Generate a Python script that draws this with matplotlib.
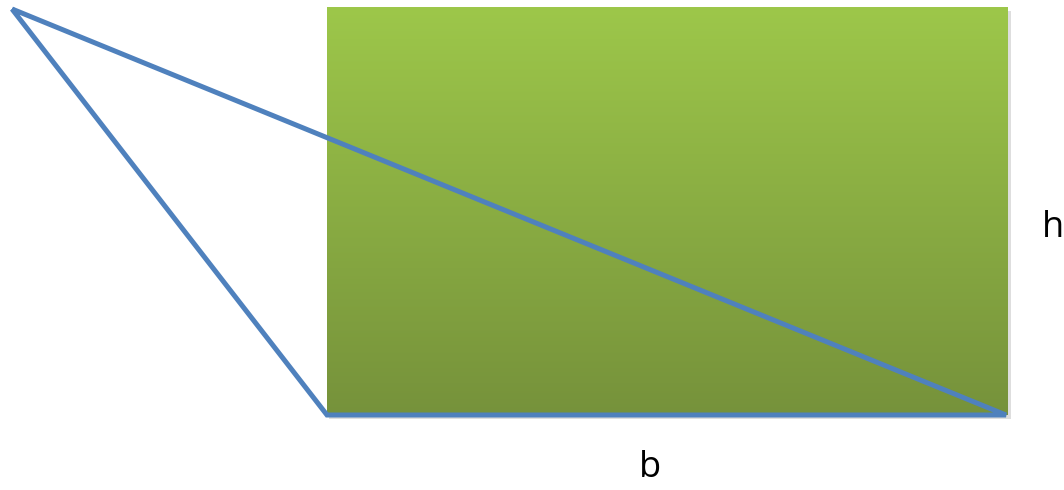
import numpy as np
import matplotlib
matplotlib.use("Agg")
import matplotlib.pyplot as plt
from matplotlib.colors import LinearSegmentedColormap

# ------------------------------------------------------------------
# Data (pixel-like diagram coordinates, y grows downward)
# ------------------------------------------------------------------
RECT_X = [327, 1008]          # left, right
RECT_Y = [8, 415]             # top, bottom
TRI_X = [12, 327, 1006, 12]   # closed triangle
TRI_Y = [9, 415, 415, 9]
LABELS = ["h", "b"]
LABEL_X = [1053, 650]
LABEL_Y = [228, 468]

GREEN_TOP = "#9dc74a"
GREEN_BOTTOM = "#76923b"
LINE_BLUE = "#4f81bd"

fig = plt.figure(figsize=(10.64, 4.9), dpi=100)
ax = fig.add_axes([0, 0, 1, 1])

# soft shadow behind the rectangle
ax.fill_between([RECT_X[0] + 2, RECT_X[1] + 3], RECT_Y[0] + 3, RECT_Y[1] + 4,
                color="#c8c8c8", alpha=0.6, zorder=1, lw=0)

# vertical gradient fill for the rectangle
cmap = LinearSegmentedColormap.from_list("grn", [GREEN_TOP, GREEN_BOTTOM])
grad = np.linspace(0, 1, 256).reshape(-1, 1)
ax.imshow(grad, cmap=cmap, aspect="auto", zorder=2,
          extent=[RECT_X[0], RECT_X[1], RECT_Y[1], RECT_Y[0]])
ax.set_xlim(0, 1064)
ax.set_ylim(490, 0)
ax.axis("off")

# triangle outline
ax.plot(TRI_X, TRI_Y, color=LINE_BLUE, lw=3.6, solid_joinstyle="miter",
        solid_capstyle="butt", zorder=3)

for t, x, y in zip(LABELS, LABEL_X, LABEL_Y):
    ax.text(x, y, t, fontsize=26, family="Open Sans", ha="center",
            va="center", color="black")

fig.savefig("out.png", dpi=100)
